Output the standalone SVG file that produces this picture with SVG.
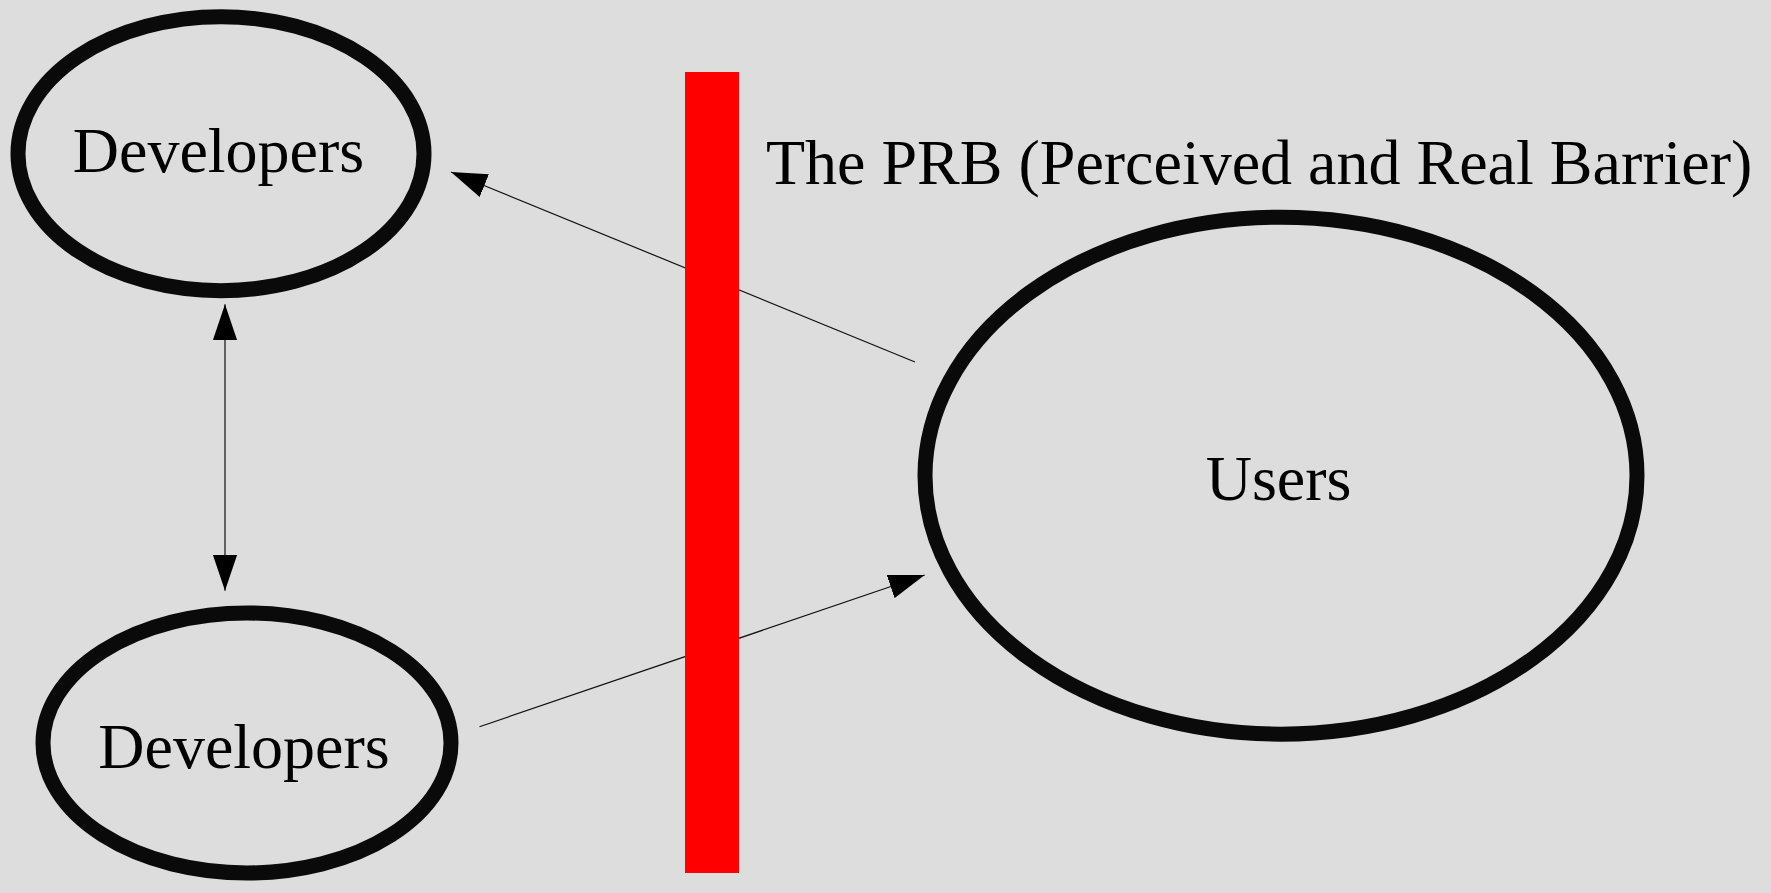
<svg xmlns="http://www.w3.org/2000/svg" width="1771" height="893" viewBox="0 0 1771 893">
  <style>
    .node { fill: none; stroke: #0a0a0a; stroke-width: 15; }
    .label { font-family: "Liberation Serif", "Times New Roman", serif; font-size: 64px; fill: #000; }
    .edge { stroke: #111; stroke-width: 1.2; fill: none; }
  </style>
  <defs>
    <marker id="arrow" markerUnits="userSpaceOnUse" markerWidth="36" markerHeight="25" viewBox="0 0 34 23" refX="34" refY="11.5" orient="auto-start-reverse">
      <path d="M0,0 L34,11.5 L0,23 z" fill="#000"/>
    </marker>
  </defs>
  <rect x="0" y="0" width="1771" height="893" fill="#dddddd"/>
  <g id="connectors">
    <line class="edge" x1="915" y1="362" x2="451" y2="172" marker-end="url(#arrow)"/>
    <line class="edge" x1="225" y1="304.3" x2="225" y2="590.7" marker-start="url(#arrow)" marker-end="url(#arrow)"/>
    <line class="edge" x1="479.5" y1="726.7" x2="924.7" y2="575" marker-end="url(#arrow)"/>
  </g>
  <g id="barrier">
    <rect x="685" y="72" width="54" height="801" fill="#ff0000"/>
    <text class="label" x="766" y="184">The PRB (Perceived and Real Barrier)</text>
  </g>
  <g id="developers-top">
    <ellipse class="node" cx="221" cy="153.7" rx="203" ry="137"/>
    <text class="label" x="218.5" y="172" text-anchor="middle">Developers</text>
  </g>
  <g id="developers-bottom">
    <ellipse class="node" cx="247" cy="743" rx="204" ry="130"/>
    <text class="label" x="244" y="768" text-anchor="middle">Developers</text>
  </g>
  <g id="users">
    <ellipse class="node" cx="1281" cy="475.7" rx="356" ry="258.5"/>
    <text class="label" x="1278.6" y="500" text-anchor="middle">Users</text>
  </g>
</svg>
